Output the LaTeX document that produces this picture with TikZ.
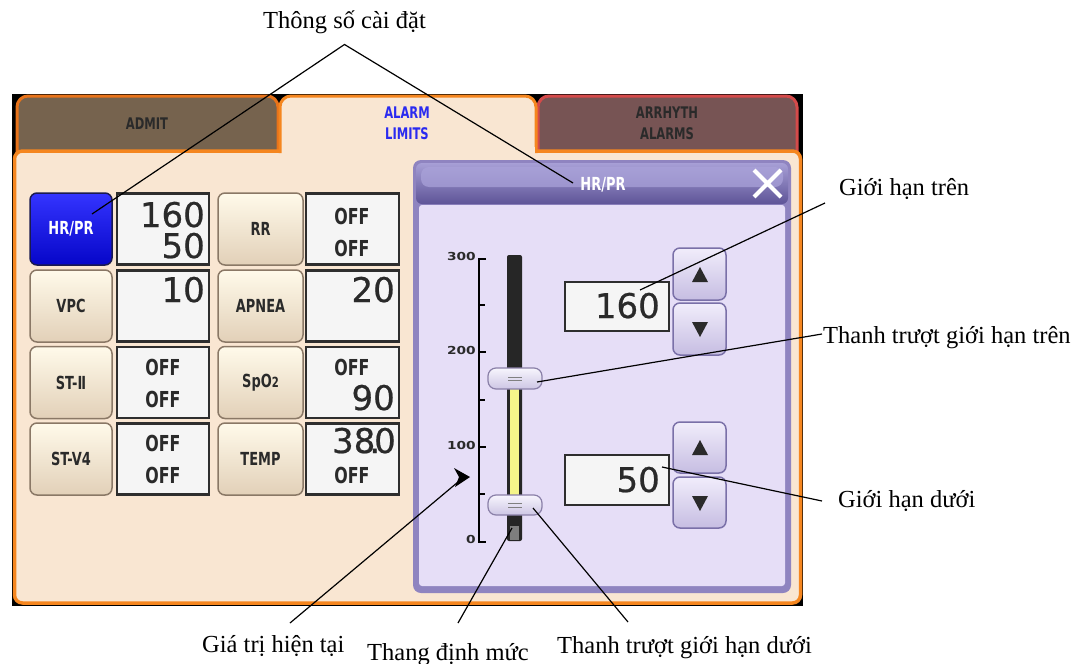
\documentclass[tikz,border=0pt]{standalone}
\usepackage{fontspec}
\setmainfont{Liberation Serif}
\newfontfamily\uifam{DejaVu Sans}[FakeStretch=0.72]
\newfontfamily\numfam{DejaVu Sans}[FakeBold=0.6]
\newfontfamily\scalefam{DejaVu Sans}[FakeStretch=1.25]
\usetikzlibrary{calc}
\definecolor{peach}{HTML}{F9E6D2}
\definecolor{orng}{HTML}{F5861F}
\definecolor{admitfill}{HTML}{76634E}
\definecolor{admitbd}{HTML}{E8731A}
\definecolor{arrfill}{HTML}{775454}
\definecolor{arrbd}{HTML}{D44A4A}
\definecolor{btnbd}{HTML}{8A7866}
\definecolor{btntop}{HTML}{FFFAEA}
\definecolor{btnbot}{HTML}{E2D0B8}
\definecolor{boxbd}{HTML}{2E2E2E}
\definecolor{boxfill}{HTML}{F5F5F5}
\definecolor{txtdark}{HTML}{2A2A2A}
\definecolor{hrtop}{HTML}{3434FF}
\definecolor{hrbot}{HTML}{0606C8}
\definecolor{hrbd}{HTML}{1A1A50}
\definecolor{tabblue}{HTML}{2A2AF0}
\definecolor{panelbd}{HTML}{8F84C0}
\definecolor{lav}{HTML}{E6DEF7}
\definecolor{titletop}{HTML}{A79FD6}
\definecolor{titlebot}{HTML}{5E5497}
\definecolor{hilite}{HTML}{9D95CE}
\definecolor{trackc}{HTML}{262626}
\definecolor{yel}{HTML}{F5F58A}
\definecolor{lowgray}{HTML}{7E7E7E}
\definecolor{hdbd}{HTML}{8A80A8}
\definecolor{hdtop}{HTML}{F7F5FD}
\definecolor{hdbot}{HTML}{CDC6E4}
\definecolor{arbtop}{HTML}{F1EDFB}
\definecolor{arbbot}{HTML}{C6BDE2}
\definecolor{arbbd}{HTML}{7A70A8}
\newcommand\fBig{\numfam\fontsize{34}{34}\selectfont}
\newcommand\fOff{\uifam\bfseries\fontsize{22}{22}\selectfont}
\newcommand\fBtn{\uifam\bfseries\fontsize{18}{18}\selectfont}
\newcommand\fTab{\uifam\bfseries\fontsize{16}{16}\selectfont}
\newcommand\fScl{\scalefam\bfseries\fontsize{11}{11}\selectfont}
\newcommand\fLbl{\fontsize{24.5}{28}\selectfont}
\tikzset{
  lbl/.style={font=\fLbl, inner sep=0pt, anchor=base west},
  callout/.style={draw=black, line width=1.2pt},
  cellbtn/.style={draw=btnbd, line width=1.5pt, rounded corners=7pt, top color=btntop, bottom color=btnbot,
     minimum width=82pt, minimum height=72pt, font=\fBtn, text=txtdark, inner sep=0pt},
  valbox/.style={draw=boxbd, line width=2.5pt, fill=boxfill, minimum width=92pt, minimum height=71pt, inner sep=0pt},
  bignum/.style={font=\fBig, inner sep=0pt, anchor=base east, text=txtdark},
  offtxt/.style={font=\fOff, inner sep=0pt, text=txtdark},
  tabtxt/.style={font=\fTab, inner sep=0pt, align=center},
  scl/.style={font=\fScl, inner sep=0pt, anchor=east, text=txtdark},
  arrbtn/.style={draw=arbbd, line width=1.5pt, rounded corners=7pt, top color=arbtop, bottom color=arbbot,
     minimum width=53pt, minimum height=51pt, inner sep=0pt},
  handle/.style={draw=hdbd, line width=1.2pt, rounded corners=8pt, top color=hdtop, bottom color=hdbot,
     minimum width=54pt, minimum height=21pt, inner sep=0pt},
  tri/.style={fill=txtdark}
}
\begin{document}
\begin{tikzpicture}[x=1pt,y=-1pt]
\useasboundingbox (0,0) rectangle (1079,664);
\fill[white] (0,0) rectangle (1079,664);
% screen background
\fill[black] (12,94) rectangle (803,606);
% tabs
\draw[fill=admitfill, draw=admitbd, line width=3pt, rounded corners=11pt] (17,153) -- (17,96) -- (278,96) -- (278,153);
\draw[fill=arrfill, draw=arrbd, line width=3pt, rounded corners=11pt] (538,153) -- (538,96) -- (797,96) -- (797,153);
% body
\draw[fill=peach, draw=orng, line width=3.5pt, rounded corners=8pt] (14.5,151) rectangle (800.5,603);
\draw[fill=peach, draw=orng, line width=3pt, rounded corners=11pt] (280,153) -- (280,96) -- (536,96) -- (536,153);
\fill[peach] (281.5,147) rectangle (534.5,156);
\node[tabtxt, text=txtdark] (tAdmit) at (147,124) {ADMIT};
\node[tabtxt, text=tabblue] (tAlarm1) at (407,113) {ALARM};
\node[tabtxt, text=tabblue] (tAlarm2) at (407,134) {LIMITS};
\node[tabtxt, text=txtdark] (tArr1) at (667,113) {ARRHYTH};
\node[tabtxt, text=txtdark] (tArr2) at (667,134) {ALARMS};

% left grid: buttons
\node[cellbtn, draw=hrbd, top color=hrtop, bottom color=hrbot, text=white] (bHR) at (71,229) {HR/PR};
\node[cellbtn] (bVPC) at (71,306) {VPC};
\node[cellbtn] (bST2) at (71,382.5) {ST-Ⅱ};
\node[cellbtn] (bSTV4) at (71,459) {ST-V4};
\node[cellbtn, minimum width=85pt] (bRR) at (260.5,229) {RR};
\node[cellbtn, minimum width=85pt] (bAPNEA) at (260.5,306) {APNEA};
\node[cellbtn, minimum width=85pt] (bSPO2) at (260.5,382.5) {SpO{\fontsize{14}{14}\selectfont 2}};
\node[cellbtn, minimum width=85pt] (bTEMP) at (260.5,459) {TEMP};
% value boxes
\node[valbox] (vHR) at (163,229) {};
\node[valbox] (vVPC) at (163,306) {};
\node[valbox] (vST2) at (163,382.5) {};
\node[valbox] (vSTV4) at (163,459) {};
\node[valbox, minimum width=93pt] (vRR) at (352.5,229) {};
\node[valbox, minimum width=93pt] (vAPNEA) at (352.5,306) {};
\node[valbox, minimum width=93pt] (vSPO2) at (352.5,382.5) {};
\node[valbox, minimum width=93pt] (vTEMP) at (352.5,459) {};
% values
\node[bignum] (n160) at (205,227) {160};
\node[bignum] (n50) at (205,258) {50};
\node[bignum] (n10) at (205,302) {10};
\node[bignum] (n20) at (395,302) {20};
\node[bignum] (n90) at (395,410) {90};
\node[bignum] (n380) at (396,453) {38\kern-6pt.\kern-6pt0};
\node[offtxt] (oRR1) at (352,216) {OFF};
\node[offtxt] (oRR2) at (352,248) {OFF};
\node[offtxt] (oST1) at (163,367) {OFF};
\node[offtxt] (oST2) at (163,399) {OFF};
\node[offtxt] (oSP1) at (352,367) {OFF};
\node[offtxt] (oV41) at (163,443) {OFF};
\node[offtxt] (oV42) at (163,475) {OFF};
\node[offtxt] (oTE) at (352,475) {OFF};

% popup panel
\fill[panelbd, rounded corners=8pt] (413,160) rectangle (791,593);
\shade[top color=titletop, bottom color=titlebot, rounded corners=6pt] (416,163) rectangle (788,204);
\shade[top color=titletop, bottom color=hilite, rounded corners=8pt] (421,167) rectangle (783,187);
\fill[lav, rounded corners=3pt] (419,205) rectangle (785,586);
\node[font=\fBtn, text=white, inner sep=0pt] (pTitle) at (603,185) {HR/PR};
\draw[white, line width=4pt] (754,170) -- (781,197) (781,170) -- (754,197);

% scale
\draw[black, line width=2pt] (486,259) -- (479,259) -- (479,542) -- (486,542);
\foreach \yy in {352,447} \draw[black, line width=2pt] (479,\yy) -- (486,\yy);
\foreach \yy in {305,400,494} \draw[black, line width=1.2pt] (479,\yy) -- (485,\yy);
\node[scl] (s300) at (476,256) {300};
\node[scl] (s200) at (476,350) {200};
\node[scl] (s100) at (476,445) {100};
\node[scl] (s0) at (476,539) {0};
% current value marker
\fill[black] (470,477) -- (454,468) -- (459,477) -- (455,487) -- cycle;
\coordinate (curval) at (458,482);

% slider track
\fill[trackc, rounded corners=2pt] (507,255) rectangle (522,541);
\fill[yel] (510,389) rectangle (519,495);
\fill[lowgray] (510,526) rectangle (519,540);
\node[handle] (hUp) at (515,378.5) {};
\draw[gray, line width=1pt] (508,377) -- (522,377) (508,380.5) -- (522,380.5);
\node[handle, minimum height=20pt] (hLow) at (515,505) {};
\draw[gray, line width=1pt] (508,503.5) -- (522,503.5) (508,507) -- (522,507);

% value boxes in popup
\node[valbox, minimum width=104pt, minimum height=49pt] (pv160) at (617,306.5) {};
\node[bignum] (pn160) at (660,318) {160};
\node[valbox, minimum width=104pt, minimum height=50pt] (pv50) at (617,480) {};
\node[bignum] (pn50) at (660,492) {50};
% arrow buttons
\node[arrbtn, minimum height=52pt] (up1) at (699.5,274) {};
\node[arrbtn, minimum height=52pt] (dn1) at (699.5,329) {};
\node[arrbtn] (up2) at (699.5,447.5) {};
\node[arrbtn] (dn2) at (699.5,502.5) {};
\fill[tri] (692,282) -- (708,282) -- (700,267) -- cycle;
\fill[tri] (692,322) -- (708,322) -- (700,337) -- cycle;
\fill[tri] (692,455) -- (708,455) -- (700,440) -- cycle;
\fill[tri] (692,496) -- (708,496) -- (700,511) -- cycle;

% callout labels
\node[lbl] (lTop) at (263,28) {Thông số cài đặt};
\node[lbl] (lGHT) at (839,195) {Giới hạn trên};
\node[lbl] (lTTT) at (823,343) {Thanh trượt giới hạn trên};
\node[lbl] (lGHD) at (838,507) {Giới hạn dưới};
\node[lbl] (lGia) at (202,652) {Giá trị hiện tại};
\node[lbl] (lThang) at (367,660) {Thang định mức};
\node[lbl] (lTTD) at (557,653) {Thanh trượt giới hạn dưới};

% callout targets
\coordinate (apex) at ($(lTop.south)+(0,11)$);
\coordinate (tHR) at (92,214);
\coordinate (tTitle) at (573,183);
\coordinate (t160) at (640,290);
\coordinate (tHup) at (537,382);
\coordinate (t50) at (662,467);
\coordinate (tGray) at (512,528);
\coordinate (tHlow) at (533,508);

\draw[callout] (tHR) -- (apex) -- (tTitle);
\draw[callout] ($(lGHT.base west)+(-14,8)$) -- (t160);
\draw[callout] ($(lTTT.base west)+(-1,-9)$) -- (tHup);
\draw[callout] ($(lGHD.base west)+(-16,-6)$) -- (t50);
\draw[callout] ($(lGia.base west)+(88,-29)$) -- (curval);
\draw[callout] ($(lThang.base west)+(91,-37)$) -- (tGray);
\draw[callout] ($(lTTD.base west)+(71,-31)$) -- (tHlow);
\end{tikzpicture}
\end{document}
